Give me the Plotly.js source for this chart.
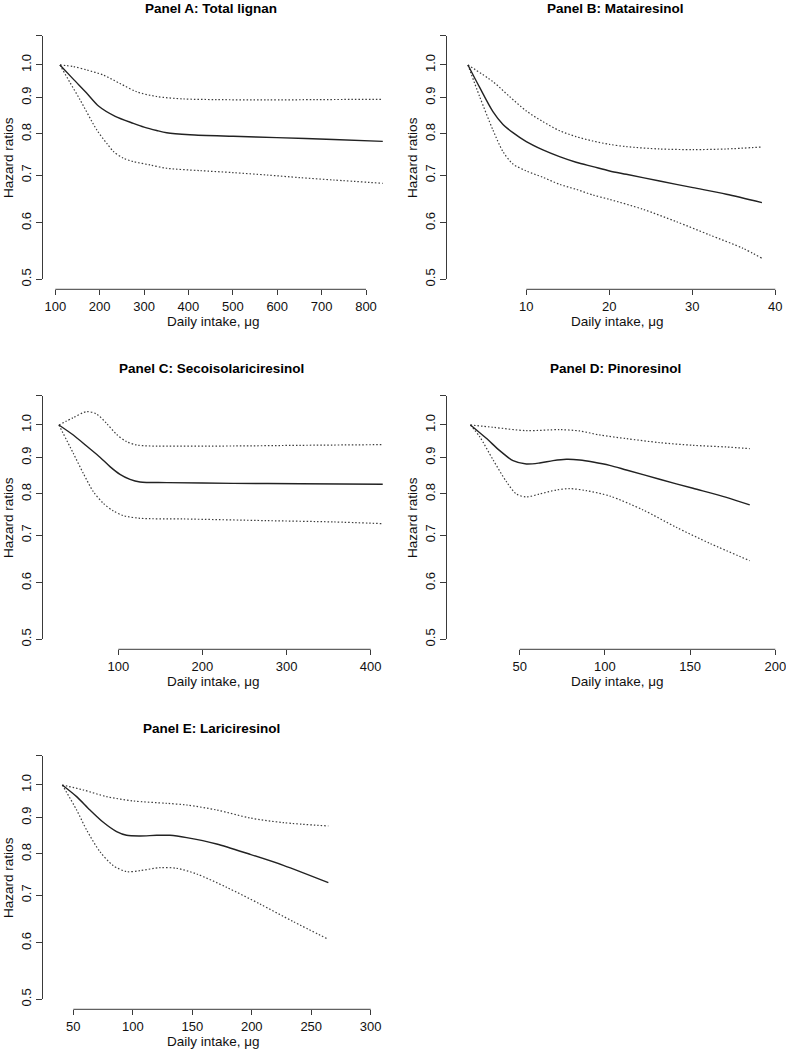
<!DOCTYPE html>
<html>
<head>
<meta charset="utf-8">
<script src="https://cdn.plot.ly/plotly-3.0.1.min.js"></script>
<style>html,body{margin:0;padding:0;background:#fff;}#chart{width:786px;height:1050px;}</style>
</head>
<body>
<div id="chart"></div>
<script>
// ---------- Data ----------
const panelTitles = ["Panel A: Total lignan", "Panel B: Matairesinol", "Panel C: Secoisolariciresinol", "Panel D: Pinoresinol", "Panel E: Lariciresinol"];
const xAxisLabel = "Daily intake, \u03bcg";
const yAxisLabel = "Hazard ratios";
const yTickVals = [0.5, 0.6, 0.7, 0.8, 0.9, 1.0, 1.1];
const yTickText = ["0.5", "0.6", "0.7", "0.8", "0.9", "1.0", ""];

const xTicksA = [100, 200, 300, 400, 500, 600, 700, 800];
const xTicksB = [10, 20, 30, 40];
const xTicksC = [100, 200, 300, 400];
const xTicksD = [50, 100, 150, 200];
const xTicksE = [50, 100, 150, 200, 250, 300];

// Panel A: Total lignan
const aEstX = [110.5, 140, 170, 198, 235, 275.8, 300, 328.4, 351, 403.5, 501, 599, 726.6, 837.8];
const aEstY = [1.0, 0.956, 0.914, 0.875, 0.847, 0.828, 0.818, 0.809, 0.803, 0.798, 0.794, 0.7905, 0.786, 0.781];
const aUpX = [110.5, 140.6, 170.6, 208, 245.7, 283.3, 328.4, 388.5, 463.6, 576.3, 689, 837.8];
const aUpY = [1.0, 0.995, 0.984, 0.968, 0.942, 0.917, 0.903, 0.896, 0.894, 0.893, 0.894, 0.895];
const aLoX = [110.5, 133, 156, 193.8, 216, 231, 253.7, 276, 313.7, 351, 426, 501, 576, 651.6, 726.6, 837.8];
const aLoY = [1.0, 0.945, 0.893, 0.810, 0.776, 0.756, 0.7395, 0.7316, 0.7237, 0.716, 0.7106, 0.706, 0.7006, 0.6946, 0.6894, 0.682];

// Panel B: Matairesinol
const bEstX = [2.97, 4.38, 5.98, 7.19, 8.39, 10, 12, 14, 16, 18.03, 20.04, 22.05, 26.06, 30.08, 34.1, 38.39];
const bEstY = [1.0, 0.930, 0.860, 0.825, 0.8035, 0.7804, 0.7597, 0.7434, 0.730, 0.7198, 0.7098, 0.7022, 0.6872, 0.6725, 0.6582, 0.6407];
const bUpX = [2.97, 5.98, 7.99, 10, 12, 14, 16, 18, 20, 22.05, 26.06, 30.08, 34.1, 38.39];
const bUpY = [1.0, 0.9475, 0.9027, 0.8618, 0.8325, 0.8086, 0.7931, 0.7821, 0.7737, 0.7679, 0.7621, 0.7605, 0.7621, 0.767];
const bLoX = [2.97, 4.38, 5.98, 7.19, 8.39, 10, 12, 14, 16, 18, 20, 24.06, 28.07, 32.09, 36.1, 38.39];
const bLoY = [1.0, 0.9027, 0.8104, 0.7556, 0.726, 0.7098, 0.6954, 0.6798, 0.6689, 0.6568, 0.6476, 0.627, 0.6025, 0.5771, 0.5527, 0.5351];

// Panel C: Secoisolariciresinol
const cEstX = [29.4, 46.5, 62.3, 78.2, 90.1, 102, 113.9, 125.8, 157.5, 236.7, 316, 414.3];
const cEstY = [1.0, 0.968, 0.934, 0.901, 0.874, 0.8525, 0.8388, 0.8317, 0.830, 0.828, 0.827, 0.8254];
const cUpX = [29.4, 46.5, 62.3, 74.2, 86.1, 98, 109.9, 121.8, 137.7, 236.7, 316, 414.3];
const cUpY = [1.0, 1.024, 1.044, 1.036, 1.005, 0.970, 0.9475, 0.9373, 0.9343, 0.9343, 0.9363, 0.9384];
const cLoX = [29.4, 46.5, 58.4, 70.3, 82.2, 94.1, 106, 125.8, 177.3, 276.4, 355.6, 414.3];
const cLoY = [1.0, 0.9124, 0.8553, 0.806, 0.7762, 0.7572, 0.7459, 0.7395, 0.7379, 0.7339, 0.7308, 0.7268];

// Panel D: Pinoresinol
const dEstX = [21.1, 30.4, 38.3, 46.1, 53.9, 61.7, 69.6, 77.4, 85.2, 93.0, 102.8, 112.6, 132.1, 151.7, 171.3, 185];
const dEstY = [1.0, 0.9578, 0.9203, 0.8911, 0.8815, 0.8844, 0.8911, 0.8949, 0.893, 0.8872, 0.8777, 0.8646, 0.8389, 0.8148, 0.7914, 0.7721];
const dUpX = [21.1, 34.4, 53.9, 73.5, 85.2, 96.9, 112.6, 132.1, 151.7, 171.3, 185];
const dUpY = [1.0, 0.9925, 0.9818, 0.985, 0.9808, 0.9682, 0.9568, 0.9445, 0.9363, 0.9313, 0.9263];
const dLoX = [21.1, 26.5, 34.4, 42.2, 48.0, 53.9, 61.7, 71.5, 79.3, 89.1, 102.8, 122.4, 141.9, 161.5, 185];
const dLoY = [1.0, 0.963, 0.893, 0.8325, 0.80, 0.7923, 0.80, 0.8104, 0.8139, 0.8086, 0.7948, 0.7597, 0.7182, 0.682, 0.6448];

// Panel E: Lariciresinol
const eEstX = [40.75, 52.8, 64.0, 75.2, 86.4, 94.8, 106.1, 120.1, 131.3, 145.3, 170.5, 198.5, 226.6, 264.4];
const eEstY = [1.0, 0.963, 0.9223, 0.8863, 0.86, 0.8498, 0.848, 0.8498, 0.8498, 0.8434, 0.8263, 0.7992, 0.7712, 0.7292];
const eUpX = [40.75, 58.4, 78.0, 100.4, 128.5, 145.3, 170.5, 198.5, 226.6, 264.4];
const eUpY = [1.0, 0.984, 0.963, 0.9496, 0.9424, 0.9373, 0.9223, 0.8988, 0.8853, 0.8758];
const eLoX = [40.75, 52.8, 61.2, 72.4, 83.6, 94.8, 106.1, 122.9, 136.9, 153.7, 178.9, 206.9, 235.0, 264.4];
const eLoY = [1.0, 0.9223, 0.8646, 0.806, 0.7704, 0.7556, 0.758, 0.7654, 0.7638, 0.7499, 0.7182, 0.6805, 0.6427, 0.6071];

// ---------- Layout geometry (pixels) ----------
const W = 786, H = 1050;
const px = v => v / W;
const py = v => 1 - v / H;

const panels = [
  {est:[aEstX,aEstY], up:[aUpX,aUpY], lo:[aLoX,aLoY], ticks:xTicksA, yLineX:42.3, yTop:35.5, yBot:279.3, xLineY:289.3, p1:55.3, p2:366.0, domR:392, cx:211},
  {est:[bEstX,bEstY], up:[bUpX,bUpY], lo:[bLoX,bLoY], ticks:xTicksB, yLineX:446.3, yTop:35.5, yBot:279.3, xLineY:289.3, p1:526.3, p2:775.3, domR:785, cx:615},
  {est:[cEstX,cEstY], up:[cUpX,cUpY], lo:[cLoX,cLoY], ticks:xTicksC, yLineX:42.3, yTop:395.5, yBot:639.3, xLineY:649.3, p1:118.3, p2:370.7, domR:392, cx:211},
  {est:[dEstX,dEstY], up:[dUpX,dUpY], lo:[dLoX,dLoY], ticks:xTicksD, yLineX:446.3, yTop:395.5, yBot:639.3, xLineY:649.3, p1:519.7, p2:775.3, domR:785, cx:615},
  {est:[eEstX,eEstY], up:[eUpX,eUpY], lo:[eLoX,eLoY], ticks:xTicksE, yLineX:42.3, yTop:755.5, yBot:999.3, xLineY:1009.3, p1:73.3, p2:370.7, domR:392, cx:211}
];

const FONT = "Liberation Sans, Arial, Helvetica, sans-serif";
const axisColor = "#3a3a3a";
const traces = [];
const layout = {
  width: W, height: H,
  margin: {l:0, r:0, t:0, b:0},
  paper_bgcolor: "#fff", plot_bgcolor: "rgba(0,0,0,0)",
  showlegend: false,
  font: {family: FONT, color: "#111", size: 13},
  shapes: [], annotations: []
};

panels.forEach((p, i) => {
  const n = i + 1;
  const sfx = n === 1 ? "" : String(n);
  const xa = "x" + sfx, ya = "y" + sfx;
  const t = p.ticks;
  const v1 = t[0], v2 = t[t.length - 1];
  const scale = (p.p2 - p.p1) / (v2 - v1);
  const lo = v1 + (p.yLineX - p.p1) / scale;
  const hi = v1 + (p.domR - p.p1) / scale;

  layout["xaxis" + sfx] = {
    domain: [px(p.yLineX), px(p.domR)],
    range: [lo, hi],
    anchor: "free", position: py(p.xLineY),
    showline: false, showgrid: false, zeroline: false,
    ticks: "outside", ticklen: 5, tickwidth: 1, tickcolor: axisColor,
    tickmode: "array", tickvals: t, ticktext: t.map(String),
    ticklabeloverflow: "allow",
    tickfont: {family: FONT, size: 13, color: "#111"},
    fixedrange: true
  };
  layout["yaxis" + sfx] = {
    domain: [py(p.yBot), py(p.yTop)],
    type: "log",
    range: [Math.log10(yTickVals[0]), Math.log10(yTickVals[yTickVals.length - 1])],
    anchor: "free", position: px(p.yLineX),
    showline: true, linecolor: axisColor, linewidth: 1,
    showgrid: false, zeroline: false,
    ticks: "outside", ticklen: 6, tickwidth: 1, tickcolor: axisColor,
    tickmode: "array", tickvals: yTickVals, ticktext: yTickText,
    tickangle: -90,
    tickfont: {family: FONT, size: 13, color: "#111"},
    fixedrange: true
  };

  // x axis line spanning first to last tick (R style)
  layout.shapes.push({
    type: "line", xref: xa, yref: "paper",
    x0: v1, x1: v2, y0: py(p.xLineY), y1: py(p.xLineY),
    line: {color: axisColor, width: 1}
  });

  const dotLine = {color: "#3c3c3c", width: 1.2, dash: "1.5px,2px", shape: "spline", smoothing: 0.8};
  traces.push({x: p.lo[0], y: p.lo[1], xaxis: xa, yaxis: ya, type: "scatter", mode: "lines", line: dotLine, hoverinfo: "skip"});
  traces.push({x: p.up[0], y: p.up[1], xaxis: xa, yaxis: ya, type: "scatter", mode: "lines", line: dotLine, hoverinfo: "skip"});
  traces.push({x: p.est[0], y: p.est[1], xaxis: xa, yaxis: ya, type: "scatter", mode: "lines",
    line: {color: "#222", width: 1.4, shape: "spline", smoothing: 0.8}, hoverinfo: "skip"});

  // titles
  layout.annotations.push({
    xref: "paper", yref: "paper", x: px(p.cx), y: py(p.yTop - 27.5),
    text: "<b>" + panelTitles[i] + "</b>", showarrow: false,
    xanchor: "center", yanchor: "middle", font: {family: FONT, size: 13.5, color: "#000"}
  });
  layout.annotations.push({
    xref: "paper", yref: "paper", x: px(p.cx + 2), y: py(p.xLineY + 32.4),
    text: xAxisLabel, showarrow: false,
    xanchor: "center", yanchor: "middle", font: {family: FONT, size: 13.5, color: "#111"}
  });
  layout.annotations.push({
    xref: "paper", yref: "paper", x: px(p.yLineX - 33.8), y: py((p.yTop + p.yBot) / 2),
    text: yAxisLabel, showarrow: false, textangle: -90,
    xanchor: "center", yanchor: "middle", font: {family: FONT, size: 13.5, color: "#111"}
  });
});

Plotly.newPlot("chart", traces, layout, {displayModeBar: false, staticPlot: true});
</script>
</body>
</html>
